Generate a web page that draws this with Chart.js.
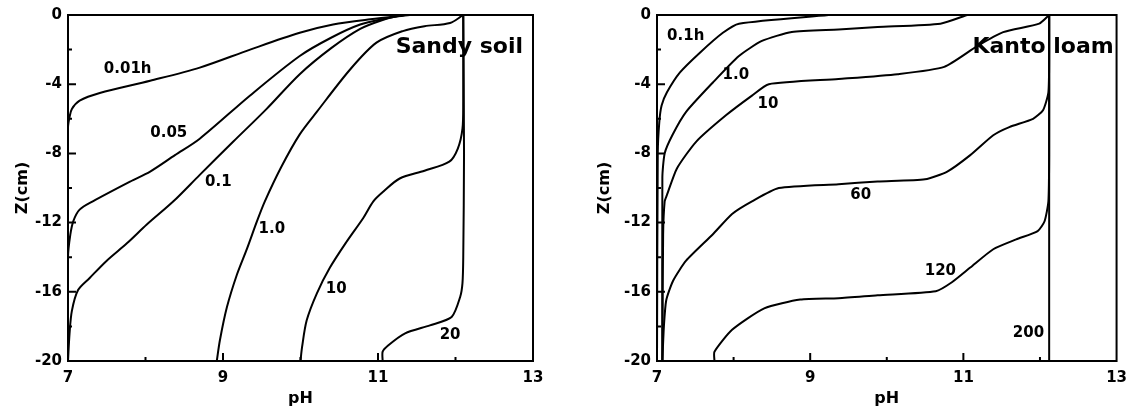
<!DOCTYPE html>
<html lang="en">
<head>
    <meta charset="UTF-8">
    <title>pH profiles</title>
    <script src="https://cdn.jsdelivr.net/npm/chart.js"></script>
    <style>
        body { margin: 0; background: #fff; }
        .panel { position: absolute; top: 0; }
    </style>
</head>
<body>
    <div class="panel" style="left:0"><canvas id="sandy" width="567" height="412"></canvas></div>
    <div class="panel" style="left:567px"><canvas id="kanto" width="568" height="412"></canvas></div>

    <script>
        // axis ticks
        const phTicks = [7, 9, 11, 13];
        const phMinor = [8, 10, 12];
        const zTicks = [-20, -16, -12, -8, -4, 0];
        const zMinor = [-18, -14, -10, -6, -2];

        // Sandy soil curves (pH vs depth)
        const sandyPh001 = [7.0, 7.0, 7.02, 7.05, 7.15, 7.41, 8.06, 8.70, 9.35, 9.99, 10.42, 10.9, 11.41];
        const sandyZ001 = [-20, -6.5, -5.9, -5.43, -4.95, -4.51, -3.8, -3.04, -2.0, -1.03, -0.55, -0.25, 0];
        const sandyPh005 = [7.0, 7.0, 7.03, 7.07, 7.15, 7.32, 7.8, 8.06, 8.38, 8.70, 9.35, 9.99, 10.4, 10.77, 11.1, 11.35];
        const sandyZ005 = [-20, -14, -12.7, -11.9, -11.25, -10.77, -9.63, -9.05, -8.1, -7.15, -4.65, -2.37, -1.3, -0.55, -0.2, 0];
        const sandyPh01 = [7.0, 7.02, 7.05, 7.13, 7.28, 7.5, 7.76, 8.02, 8.36, 8.70, 9.13, 9.56, 9.99, 10.4, 10.77, 11.05, 11.3];
        const sandyZ01 = [-20, -18.4, -17.1, -15.9, -15.2, -14.2, -13.2, -12.1, -10.77, -9.24, -7.33, -5.44, -3.42, -1.9, -0.8, -0.3, 0];
        const sandyPh1 = [8.92, 8.96, 9.05, 9.18, 9.31, 9.44, 9.54, 9.75, 9.99, 10.21, 10.64, 10.98, 11.32, 11.6, 11.93, 12.1];
        const sandyZ1 = [-20, -18.8, -16.9, -15.0, -13.5, -11.9, -10.77, -8.8, -6.9, -5.6, -3.15, -1.6, -0.93, -0.65, -0.46, 0];
        const sandyPh10 = [10.0, 10.02, 10.08, 10.21, 10.38, 10.6, 10.81, 10.94, 11.07, 11.28, 11.6, 11.92, 12.03, 12.09, 12.1, 12.1];
        const sandyZ10 = [-20, -19.2, -17.65, -16.1, -14.6, -13.07, -11.73, -10.77, -10.2, -9.45, -9.0, -8.48, -7.72, -6.57, -5.0, 0];
        const sandyPh20 = [11.06, 11.06, 11.13, 11.35, 11.67, 11.95, 12.06, 12.09, 12.1, 12.11, 12.1];
        const sandyZ20 = [-20, -19.46, -19.1, -18.4, -17.94, -17.46, -16.3, -15.5, -14.0, -8, 0];

        // Kanto loam curves
        const kantoPh01 = [7.0, 7.01, 7.03, 7.06, 7.13, 7.3, 7.56, 7.86, 8.07, 9.24];
        const kantoZ01 = [-20, -8, -6.19, -5.23, -4.47, -3.32, -2.18, -1.03, -0.5, 0];
        const kantoPh1 = [7.07, 7.07, 7.1, 7.2, 7.38, 7.73, 8.07, 8.37, 8.76, 9.37, 9.88, 10.7, 11.05];
        const kantoZ1 = [-20, -9.4, -8.0, -6.95, -5.6, -3.9, -2.37, -1.5, -0.98, -0.84, -0.7, -0.5, 0];
        const kantoPh10 = [7.07, 7.08, 7.1, 7.13, 7.26, 7.51, 7.9, 8.24, 8.46, 9.37, 10.14, 10.75, 11.18, 11.52, 11.99, 12.12];
        const kantoZ10 = [-20, -12.7, -10.77, -10.4, -8.87, -7.33, -5.8, -4.66, -4.0, -3.7, -3.42, -3.0, -1.8, -0.99, -0.5, 0];
        const kantoPh60 = [7.07, 7.09, 7.12, 7.21, 7.38, 7.73, 7.98, 8.24, 8.59, 9.37, 9.88, 10.5, 10.79, 11.09, 11.39, 11.6, 11.91, 12.04, 12.11, 12.12, 12.12];
        const kantoZ60 = [-20, -18.0, -16.5, -15.36, -14.2, -12.67, -11.5, -10.77, -10.0, -9.78, -9.63, -9.5, -9.05, -8.1, -6.95, -6.48, -6.0, -5.5, -4.47, -2.2, 0];
        const kantoPh120 = [7.75, 7.75, 7.98, 8.4, 8.87, 9.37, 9.88, 10.64, 10.85, 11.09, 11.39, 11.69, 11.97, 12.06, 12.11, 12.12, 12.12];
        const kantoZ120 = [-20, -19.47, -18.2, -16.96, -16.45, -16.37, -16.2, -15.97, -15.45, -14.6, -13.54, -12.97, -12.49, -11.92, -10.77, -8, 0];
        const kantoPh200 = [12.12, 12.12];
        const kantoZ200 = [-20, 0];

        // curve labels: text, pH, z
        const sandyLabels = [
            ['0.01h', 7.77, -3.15], ['0.05', 8.30, -6.82], ['0.1', 8.94, -9.68],
            ['1.0', 9.63, -12.38], ['10', 10.46, -15.82], ['20', 11.93, -18.51]
        ];
        const kantoLabels = [
            ['0.1h', 7.375, -1.2], ['1.0', 8.03, -3.5], ['10', 8.45, -5.16],
            ['60', 9.66, -10.43], ['120', 10.70, -14.79], ['200', 11.85, -18.4]
        ];

        const FONT = 'DejaVu Sans';

        function series(ph, z, tension) {
            return {
                data: ph.map((p, i) => ({ x: p, y: z[i] })),
                borderColor: '#000',
                borderWidth: 2,
                pointRadius: 0,
                tension: tension,
                fill: false
            };
        }

        // frame, inward ticks and text notes
        const framePlugin = {
            id: 'frame',
            afterDatasetsDraw(chart, args, opts) {
                const { ctx, chartArea: a, scales: { x, y } } = chart;
                ctx.save();
                ctx.strokeStyle = '#000';
                ctx.lineWidth = 2;
                ctx.strokeRect(a.left, a.top, a.right - a.left, a.bottom - a.top);
                ctx.beginPath();
                phTicks.slice(1, -1).forEach(v => {
                    const px = x.getPixelForValue(v);
                    ctx.moveTo(px, a.bottom); ctx.lineTo(px, a.bottom - 8);
                });
                phMinor.forEach(v => {
                    const px = x.getPixelForValue(v);
                    ctx.moveTo(px, a.bottom); ctx.lineTo(px, a.bottom - 4);
                });
                zTicks.slice(1, -1).forEach(v => {
                    const py = y.getPixelForValue(v);
                    ctx.moveTo(a.left, py); ctx.lineTo(a.left + 8, py);
                });
                zMinor.forEach(v => {
                    const py = y.getPixelForValue(v);
                    ctx.moveTo(a.left, py); ctx.lineTo(a.left + 4, py);
                });
                ctx.stroke();

                ctx.fillStyle = '#000';
                ctx.textAlign = 'center';
                ctx.textBaseline = 'middle';
                ctx.font = 'bold 15px "' + FONT + '"';
                opts.labels.forEach(([t, p, z]) => {
                    ctx.fillText(t, x.getPixelForValue(p), y.getPixelForValue(z));
                });
                ctx.font = 'bold 22px "' + FONT + '"';
                ctx.fillText(opts.title[0], x.getPixelForValue(opts.title[1]), y.getPixelForValue(opts.title[2]));
                ctx.restore();
            }
        };

        function makeChart(id, datasets, labels, title, padRight, yWidth, titlePad) {
            return new Chart(document.getElementById(id), {
                type: 'line',
                data: { datasets },
                plugins: [framePlugin],
                options: {
                    responsive: false,
                    animation: false,
                    layout: { padding: { left: 0, right: padRight, top: 12, bottom: 0 } },
                    plugins: {
                        legend: { display: false },
                        tooltip: { enabled: false },
                        frame: { labels, title }
                    },
                    scales: {
                        x: {
                            type: 'linear', min: 7, max: 13,
                            grid: { display: false, drawTicks: false },
                            border: { display: false },
                            afterBuildTicks: s => { s.ticks = phTicks.map(v => ({ value: v })); },
                            ticks: { color: '#000', padding: 8, font: { family: FONT, size: 15, weight: 'bold' } },
                            title: { display: true, text: 'pH', color: '#000', padding: { top: 0, bottom: 4 },
                                     font: { family: FONT, size: 16, weight: 'bold' } },
                            afterFit: s => { s.height = 51; }
                        },
                        y: {
                            type: 'linear', min: -20, max: 0,
                            grid: { display: false, drawTicks: false },
                            border: { display: false },
                            afterBuildTicks: s => { s.ticks = zTicks.map(v => ({ value: v })); },
                            ticks: { color: '#000', padding: 6, font: { family: FONT, size: 15, weight: 'bold' } },
                            title: { display: true, text: 'Z(cm)', color: '#000', padding: { top: titlePad, bottom: 0 },
                                     font: { family: FONT, size: 16, weight: 'bold' } },
                            afterFit: s => { s.width = yWidth; }
                        }
                    }
                }
            });
        }

        makeChart('sandy', [
            series(sandyPh001, sandyZ001, 0.3), series(sandyPh005, sandyZ005, 0.3), series(sandyPh01, sandyZ01, 0.3),
            series(sandyPh1, sandyZ1, 0.3), series(sandyPh10, sandyZ10, 0.3), series(sandyPh20, sandyZ20, 0.25)
        ], sandyLabels, ['Sandy soil', 12.05, -1.89], 34, 68, 13);

        makeChart('kanto', [
            series(kantoPh01, kantoZ01, 0.25), series(kantoPh1, kantoZ1, 0.2), series(kantoPh10, kantoZ10, 0.2),
            series(kantoPh60, kantoZ60, 0.2), series(kantoPh120, kantoZ120, 0.2), series(kantoPh200, kantoZ200, 0)
        ], kantoLabels, ['Kanto loam', 12.04, -1.89], 14, 90, 28);
    </script>
</body>
</html>
